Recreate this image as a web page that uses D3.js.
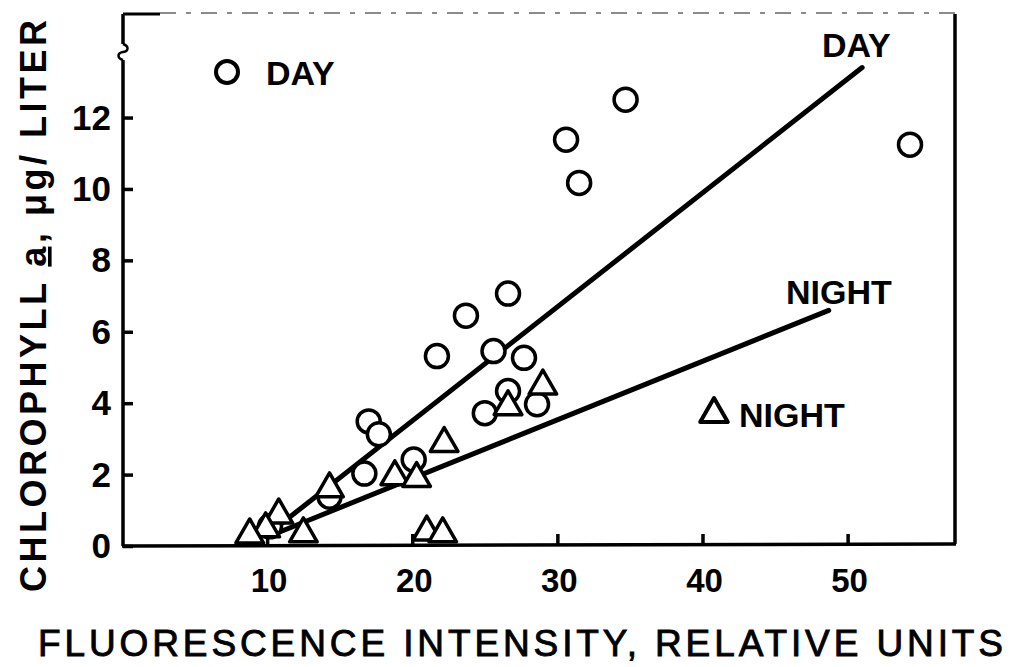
<!DOCTYPE html>
<html><head><meta charset="utf-8">
<script src="https://cdn.jsdelivr.net/npm/d3@7"></script>
<style>body{margin:0;background:#fff}svg{display:block}</style>
</head><body>
<svg id="c" width="1015" height="667"></svg>
<script>
// Data
const dayX = [26.6, 23.7, 21.7, 25.6, 27.7, 26.6, 25.0, 28.6, 17.0, 17.7, 16.7, 20.1, 14.3, 10.2, 30.6, 31.5, 34.7, 54.3];
const dayY = [7.07, 6.45, 5.32, 5.46, 5.27, 4.34, 3.72, 3.97, 3.49, 3.13, 2.03, 2.42, 1.38, 0.55, 11.38, 10.17, 12.5, 11.24];
const nightX = [26.6, 29.0, 22.2, 18.8, 20.3, 14.3, 10.8, 9.9, 8.8, 12.5, 21.0, 22.1];
const nightY = [3.9, 4.48, 2.87, 1.94, 1.89, 1.6, 0.87, 0.48, 0.31, 0.34, 0.39, 0.34];
const dayLineX = [10.9, 51.0];
const dayLineY = [0.6, 13.4];
const nightLineX = [10.9, 48.7];
const nightLineY = [0.4, 6.6];
const xTicks = [10, 20, 30, 40, 50];
const yTicks = [0, 2, 4, 6, 8, 10, 12];

const svg = d3.select("#c");
const x = d3.scaleLinear().domain([0, 57.4]).range([122, 955]);
const y = d3.scaleLinear().domain([0, 14.9]).range([546, 14]);
const font = "'Liberation Sans', Arial, sans-serif";

// axes frame
const g = svg.append("g");
g.append("line").attr("x1", 122).attr("x2", 956).attr("y1", y(0)).attr("y2", y(0) - 2)
  .attr("stroke", "#000").attr("stroke-width", 3.5);
g.append("line").attr("x1", 123).attr("x2", 123).attr("y1", y(0)).attr("y2", 60)
  .attr("stroke", "#000").attr("stroke-width", 3.5);
g.append("line").attr("x1", 123).attr("x2", 123).attr("y1", 44).attr("y2", 14)
  .attr("stroke", "#000").attr("stroke-width", 3.5);
g.append("path").attr("d", "M123,60 C117,58 117,53 123,52 C129,51 129,46 123,44")
  .attr("fill", "none").attr("stroke", "#000").attr("stroke-width", 2.5);
g.append("line").attr("x1", 955).attr("x2", 955).attr("y1", 14).attr("y2", y(0) - 2)
  .attr("stroke", "#000").attr("stroke-width", 3.5);
g.append("line").attr("x1", 123).attr("x2", 160).attr("y1", 14).attr("y2", 14)
  .attr("stroke", "#000").attr("stroke-width", 3);
g.append("line").attr("x1", 160).attr("x2", 955).attr("y1", 13).attr("y2", 13)
  .attr("stroke", "#666").attr("stroke-width", 1.5).attr("stroke-dasharray", "16,10,5,10");

// x ticks (inward)
const xAxis = d3.axisTop(x).tickValues(xTicks).tickSize(12).tickFormat("");
svg.append("g").attr("transform", `translate(0,${y(0)})`).call(xAxis)
  .call(s => s.select(".domain").remove())
  .call(s => s.selectAll("line").attr("stroke-width", 3.5));
svg.append("g").selectAll("text").data(xTicks).join("text")
  .attr("x", d => x(d) + 2).attr("y", 592).attr("text-anchor", "middle")
  .attr("font-family", font).attr("font-weight", "bold").attr("font-size", 33)
  .text(d => d);

// y ticks (inward)
const yAxis = d3.axisRight(y).tickValues(yTicks).tickSize(10).tickFormat("");
svg.append("g").attr("transform", `translate(123,0)`).call(yAxis)
  .call(s => s.select(".domain").remove())
  .call(s => s.selectAll("line").attr("stroke-width", 3.5));
svg.append("g").selectAll("text").data(yTicks).join("text")
  .attr("x", 111).attr("y", d => y(d) + 12).attr("text-anchor", "end")
  .attr("font-family", font).attr("font-weight", "bold").attr("font-size", 35)
  .text(d => d);

// fitted lines
const line = d3.line().x(d => x(d[0])).y(d => y(d[1]));
svg.append("path").attr("d", line(d3.zip(dayLineX, dayLineY)))
  .attr("stroke", "#000").attr("stroke-width", 5).attr("fill", "none").attr("stroke-linecap", "round");
svg.append("path").attr("d", line(d3.zip(nightLineX, nightLineY)))
  .attr("stroke", "#000").attr("stroke-width", 5).attr("fill", "none").attr("stroke-linecap", "round");

// day circles
svg.append("g").selectAll("circle").data(d3.zip(dayX, dayY)).join("circle")
  .attr("cx", d => x(d[0])).attr("cy", d => y(d[1])).attr("r", 11.5)
  .attr("fill", "#fff").attr("stroke", "#000").attr("stroke-width", 3.5);

// night triangles
const tri = d3.symbol().type(d3.symbolTriangle).size(330);
svg.append("g").selectAll("path").data(d3.zip(nightX, nightY)).join("path")
  .attr("d", tri).attr("transform", d => `translate(${x(d[0])},${y(d[1])})`)
  .attr("fill", "#fff").attr("stroke", "#000").attr("stroke-width", 3.5).attr("stroke-linejoin", "round");

// legend
svg.append("circle").attr("cx", 227).attr("cy", 72).attr("r", 11)
  .attr("fill", "#fff").attr("stroke", "#000").attr("stroke-width", 4);
svg.append("text").attr("x", 266).attr("y", 85).attr("font-family", font).attr("font-weight", "bold")
  .attr("font-size", 34).text("DAY");
svg.append("path").attr("d", tri).attr("transform", "translate(714,414)")
  .attr("fill", "#fff").attr("stroke", "#000").attr("stroke-width", 4).attr("stroke-linejoin", "round");
svg.append("text").attr("x", 739).attr("y", 427).attr("font-family", font).attr("font-weight", "bold")
  .attr("font-size", 34).text("NIGHT");

// line labels
svg.append("text").attr("x", 822).attr("y", 57).attr("font-family", font).attr("font-weight", "bold")
  .attr("font-size", 34).text("DAY");
svg.append("text").attr("x", 786).attr("y", 304).attr("font-family", font).attr("font-weight", "bold")
  .attr("font-size", 34).text("NIGHT");

// axis titles
svg.append("text").attr("x", 38).attr("y", 656).attr("font-family", font)
  .attr("font-size", 37).attr("textLength", 965).attr("lengthAdjust", "spacing")
  .attr("stroke", "#000").attr("stroke-width", 0.9)
  .text("FLUORESCENCE INTENSITY, RELATIVE UNITS");
const yt = svg.append("text").attr("transform", "translate(46,592) rotate(-90)")
  .attr("font-family", font).attr("font-weight", "bold").attr("font-size", 36)
  .attr("textLength", 572).attr("lengthAdjust", "spacing");
yt.append("tspan").text("CHLOROPHYLL ");
yt.append("tspan").attr("text-decoration", "underline").text("a");
yt.append("tspan").text(", μg/ LITER");
</script>
</body></html>
